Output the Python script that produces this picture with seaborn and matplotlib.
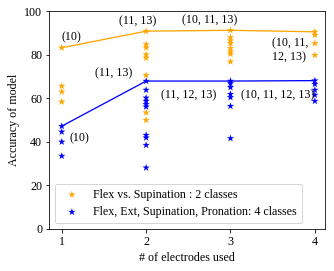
import matplotlib
matplotlib.use("Agg")
import matplotlib.pyplot as plt
import seaborn as sns
import pandas as pd

# Data
n_electrodes_2cls = [1, 1, 1, 1,
                     2, 2, 2, 2, 2, 2, 2, 2,
                     3, 3, 3, 3, 3, 3, 3, 3,
                     4, 4, 4, 4]
acc_2cls = [83.2, 65.6, 63.0, 58.4,
            90.8, 84.7, 83.2, 80.1, 78.5, 70.6, 53.4, 50.0,
            91.2, 87.9, 86.4, 85.2, 82.9, 81.3, 80.3, 76.8,
            90.5, 89.0, 85.2, 79.8]
n_electrodes_4cls = [1, 1, 1, 1,
                     2, 2, 2, 2, 2, 2, 2, 2, 2, 2,
                     3, 3, 3, 3, 3, 3, 3,
                     4, 4, 4, 4, 4]
acc_4cls = [47.2, 44.6, 40.0, 33.5,
            67.9, 63.8, 60.2, 58.7, 57.2, 56.1, 43.1, 41.9, 38.5, 28.1,
            67.9, 66.8, 65.0, 61.9, 60.4, 56.4, 41.6,
            68.1, 66.5, 63.8, 61.5, 58.7]
best_x = [1, 2, 3, 4]
best_2cls = [83.2, 90.8, 91.2, 90.5]
best_4cls = [47.2, 67.9, 67.9, 68.1]
best_labels_2cls = ["(10)", "(11, 13)", "(10, 11, 13)", "(10, 11,\n12, 13)"]
best_labels_4cls = ["(10)", "(11, 13)", "(11, 12, 13)", "(10, 11, 12, 13)"]
label_2cls = "Flex vs. Supination : 2 classes"
label_4cls = "Flex, Ext, Supination, Pronation: 4 classes"

plt.rcParams['font.family'] = ['Liberation Serif', 'DejaVu Serif']
plt.rcParams['font.size'] = 12

df2 = pd.DataFrame({"n": n_electrodes_2cls, "acc": acc_2cls})
df4 = pd.DataFrame({"n": n_electrodes_4cls, "acc": acc_4cls})
best2 = pd.DataFrame({"n": best_x, "acc": best_2cls})
best4 = pd.DataFrame({"n": best_x, "acc": best_4cls})

fig = plt.figure(figsize=(334 / 72, 271 / 72), dpi=72)
ax = fig.add_axes([0.147, 0.155, 0.826, 0.804])

sns.lineplot(data=best2, x="n", y="acc", color="orange", lw=1.3, ax=ax)
sns.lineplot(data=best4, x="n", y="acc", color="blue", lw=1.3, ax=ax)
sns.scatterplot(data=df2, x="n", y="acc", color="orange", marker="*", s=60,
                edgecolor="none", label=label_2cls, ax=ax)
sns.scatterplot(data=df4, x="n", y="acc", color="blue", marker="*", s=60,
                edgecolor="none", label=label_4cls, ax=ax)

# annotation text anchors (offsets from each best point, in data units)
ann2 = [(0.0, 4.6), (-0.325, 4.3), (-0.58, 4.4), (-0.51, -8.5)]
for (dx, dy), x, y, t in zip(ann2, best_x, best_2cls, best_labels_2cls):
    ax.text(x + dx, y + dy, t, ha="left", va="center", fontsize=12)
ann4 = [(0.095, -5.6), (-0.61, 3.5), (-0.82, -6.4), (-0.87, -6.6)]
for (dx, dy), x, y, t in zip(ann4, best_x, best_4cls, best_labels_4cls):
    ax.text(x + dx, y + dy, t, ha="left", va="center", fontsize=12)

ax.set_xlim(0.85, 4.12)
ax.set_ylim(0, 100)
ax.set_xticks([1, 2, 3, 4])
ax.set_xlabel("# of electrodes used")
ax.set_ylabel("Accuracy of model")
ax.legend(loc="lower left", fontsize=12, labelspacing=0.45, handletextpad=0.8)

fig.savefig("out.png", dpi=72)
